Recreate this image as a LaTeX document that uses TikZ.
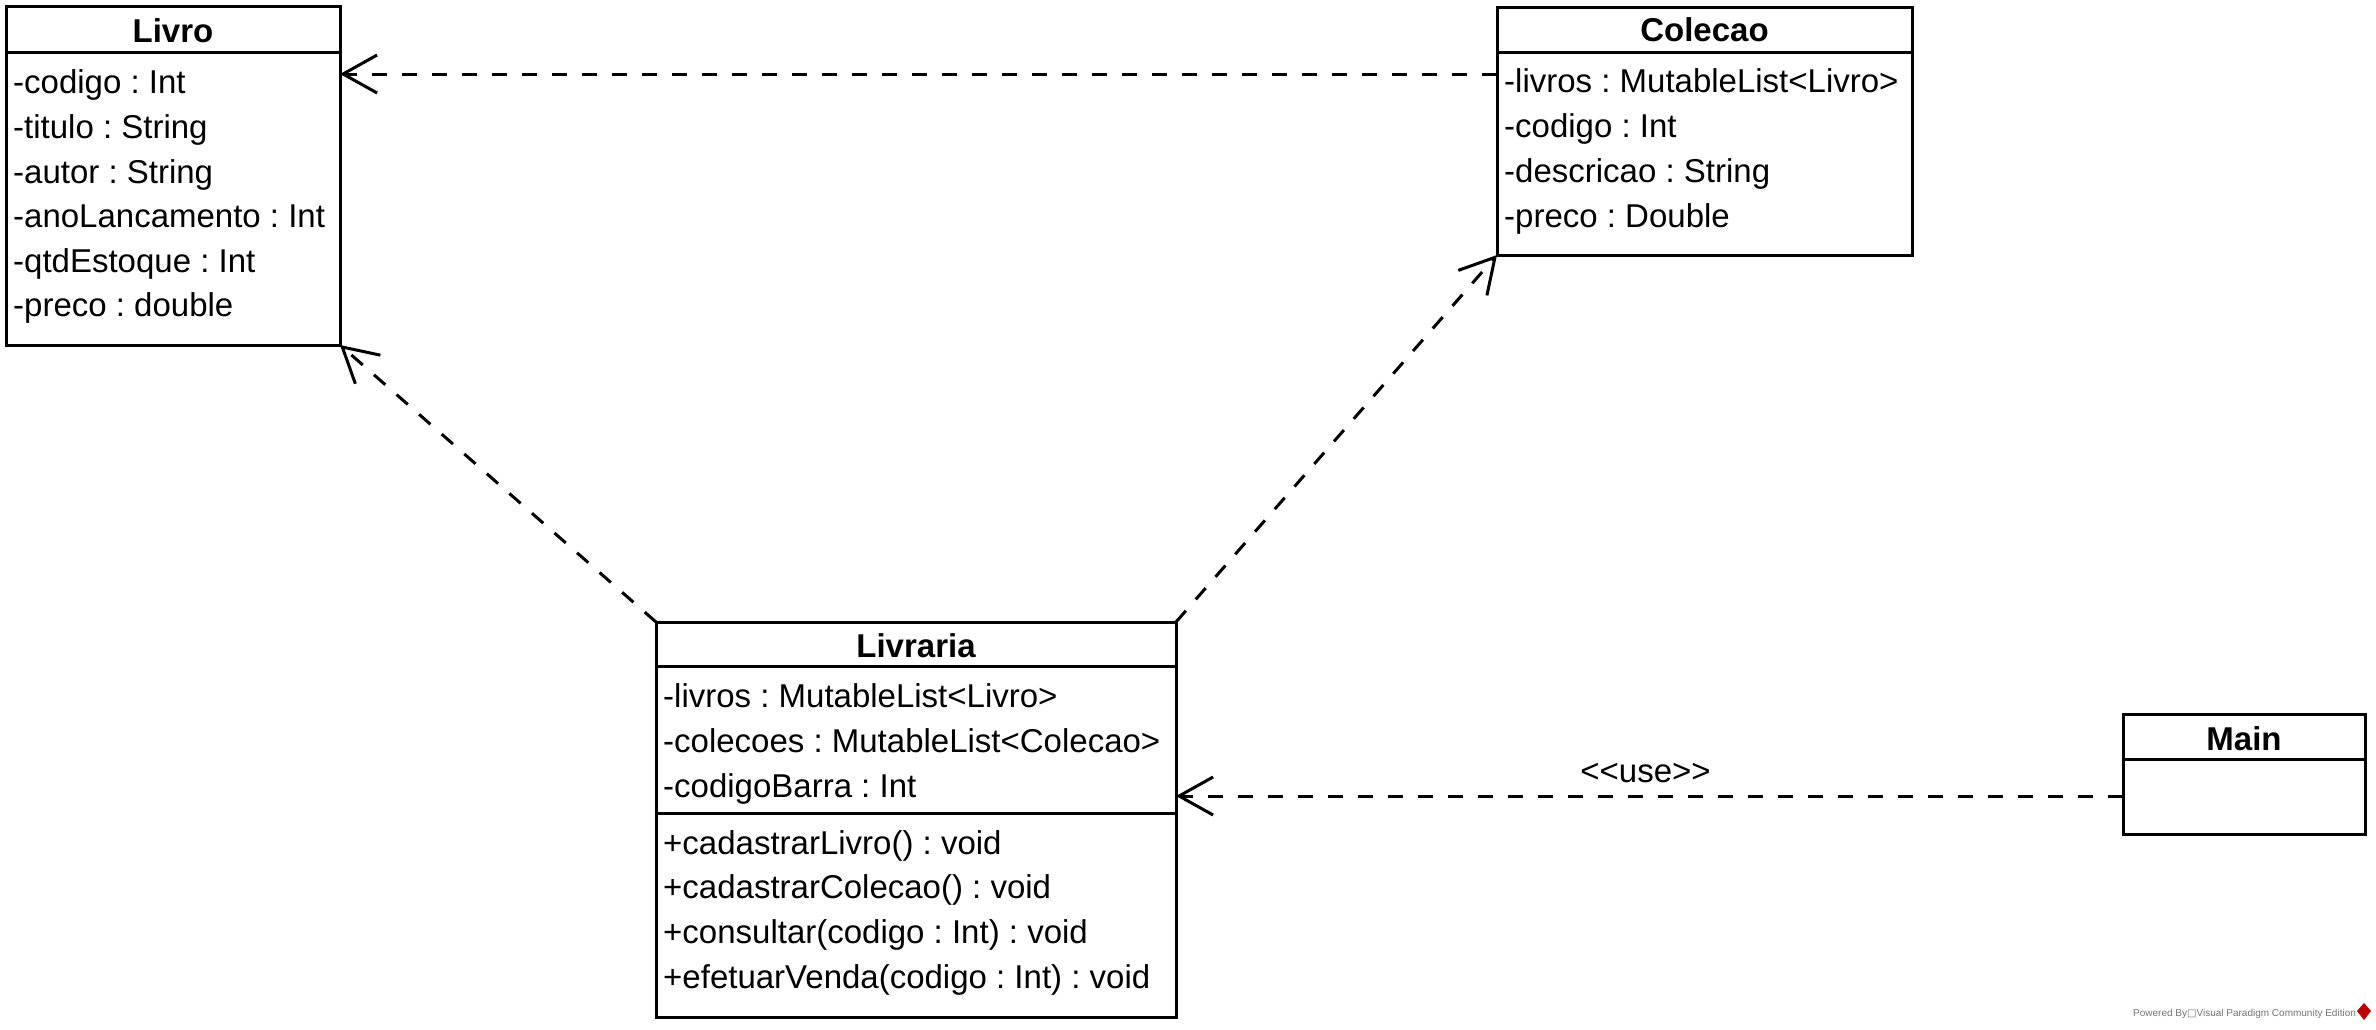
\documentclass[tikz,border=0pt]{standalone}
\usepackage{fontspec}
\setmainfont{Liberation Sans}
\newfontfamily\dvfont{DejaVu Sans}
\usetikzlibrary{arrows.meta}
\frenchspacing
\tikzset{
  cls/.style={draw, line width=3pt, inner sep=0pt, outer sep=0pt, anchor=north west},
  ttl/.style={anchor=base, inner sep=0pt, font=\fontsize{33}{40}\selectfont\bfseries},
  att/.style={anchor=base west, inner sep=0pt, font=\fontsize{33}{40}\selectfont},
  sep/.style={line width=3pt},
  dep/.style={line width=3pt, dash pattern=on 15pt off 15pt, -{Straight Barb[length=34pt,width=38pt]}},
}
\begin{document}
\begin{tikzpicture}[x=1pt,y=-1pt]
\frenchspacing
\useasboundingbox (0,0) rectangle (2376,1029);
% Livro
\node[cls, minimum width=334pt, minimum height=339pt] (livro) at (6,6) {};
\draw[sep] (6,52) -- (340,52);
\node[ttl] (livroT) at (173,42) {Livro};
\node[att] (livroA1) at (13,93) {-codigo : Int};
\node[att] (livroA2) at (13,138) {-titulo : String};
\node[att] (livroA3) at (13,183) {-autor : String};
\node[att] (livroA4) at (13,227) {-anoLancamento : Int};
\node[att] (livroA5) at (13,272) {-qtdEstoque : Int};
\node[att] (livroA6) at (13,316) {-preco : double};
% Colecao
\node[cls, minimum width=415pt, minimum height=248pt] (colecao) at (1497,7) {};
\draw[sep] (1497,52) -- (1912,52);
\node[ttl] (colecaoT) at (1704.5,41) {Colecao};
\node[att] (colecaoA1) at (1504,92) {-livros : MutableList<Livro>};
\node[att] (colecaoA2) at (1504,137) {-codigo : Int};
\node[att] (colecaoA3) at (1504,182) {-descricao : String};
\node[att] (colecaoA4) at (1504,227) {-preco : Double};
% Livraria
\node[cls, minimum width=520pt, minimum height=395pt] (livraria) at (656,622) {};
\draw[sep] (656,666) -- (1176,666);
\draw[sep] (656,813) -- (1176,813);
\node[ttl] (livrariaT) at (916,657) {Livraria};
\node[att] (livrariaA1) at (663,707) {-livros : MutableList<Livro>};
\node[att] (livrariaA2) at (663,752) {-colecoes : MutableList<Colecao>};
\node[att] (livrariaA3) at (663,797) {-codigoBarra : Int};
\node[att] (livrariaO1) at (663,854) {+cadastrarLivro() : void};
\node[att] (livrariaO2) at (663,898) {+cadastrarColecao() : void};
\node[att] (livrariaO3) at (663,943) {+consultar(codigo : Int) : void};
\node[att] (livrariaO4) at (663,988) {+efetuarVenda(codigo : Int) : void};
% Main
\node[cls, minimum width=242pt, minimum height=120pt] (main) at (2123,714) {};
\draw[sep] (2123,759) -- (2365,759);
\node[ttl] (mainT) at (2244,750) {Main};
% connectors
\draw[dep] ([yshift=-67pt]colecao.north west) -- ([yshift=-68pt]livro.north east);
\draw[dep] (livraria.north west) -- (livro.south east);
\draw[dep] (livraria.north east) -- (colecao.south west);
\draw[dep] ([yshift=-82pt]main.north west) -- node[midway, anchor=base, yshift=14pt, xshift=-4pt, inner sep=0pt, font=\fontsize{33}{40}\selectfont] (useL) {<{}<use>{}>} ([yshift=-174pt]livraria.north east);
% watermark
\node[anchor=base west, inner sep=0pt, text=black!55, font=\fontsize{10}{12}\selectfont] (wm) at (2133,1016) {Powered By{\dvfont □}Visual Paradigm Community Edition};
\fill[red!75!black] (2364,1003) -- (2371,1011) -- (2364,1020) -- (2357,1011) -- cycle;
\end{tikzpicture}
\end{document}
